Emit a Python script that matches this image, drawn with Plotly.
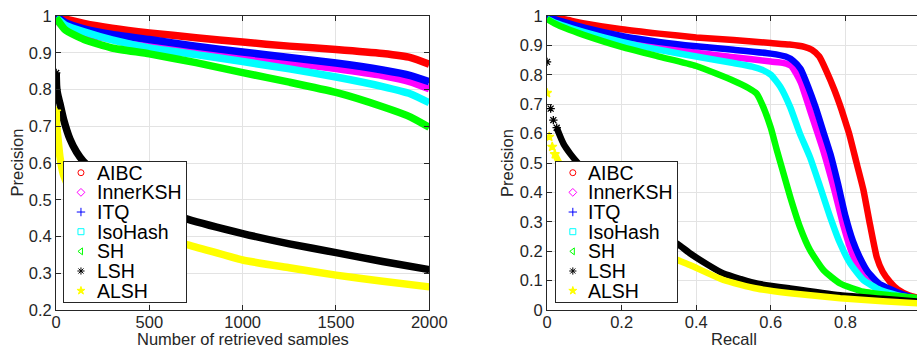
import plotly.graph_objects as go

# ---------------- data ----------------
NAMES = ["AIBC", "InnerKSH", "ITQ", "IsoHash", "SH", "LSH", "ALSH"]
COLORS = ["#ff0000", "#ff00ff", "#0000ff", "#00ffff", "#00ff00", "#000000", "#ffff00"]
SYMBOLS = ["circle-open", "diamond-open", "cross-thin-open", "square-open",
           "triangle-left-open", "asterisk-open", "star"]

# Left: precision vs number of retrieved samples
left_x = [1, 50, 150, 300, 500, 750, 1000, 1250, 1500, 1750, 1900, 2000]
left_aibc = [1.0, 0.992, 0.980, 0.967, 0.954, 0.941, 0.929, 0.918, 0.909, 0.898, 0.887, 0.869]
left_innerksh = [0.99, 0.968, 0.952, 0.937, 0.923, 0.905, 0.889, 0.873, 0.857, 0.838, 0.821, 0.802]
left_itq = [1.0, 0.982, 0.965, 0.950, 0.936, 0.918, 0.902, 0.887, 0.872, 0.853, 0.838, 0.821]
left_isohash = [0.995, 0.975, 0.957, 0.935, 0.913, 0.895, 0.876, 0.856, 0.834, 0.808, 0.788, 0.764]
left_sh = [0.995, 0.962, 0.936, 0.913, 0.897, 0.873, 0.846, 0.820, 0.792, 0.753, 0.725, 0.697]
left_lsh_x = [1, 3, 6, 12, 21, 40, 75, 110, 146, 250, 400, 550, 700, 1000, 1250, 1500, 1750, 2000]
left_lsh = [0.845, 0.81, 0.795, 0.78, 0.762, 0.72, 0.665, 0.63, 0.605, 0.555, 0.51, 0.475,
            0.448, 0.408, 0.38, 0.356, 0.332, 0.31]
left_alsh_x = [1, 3, 6, 12, 21, 39, 100, 200, 400, 700, 1000, 1250, 1500, 1750, 2000]
left_alsh = [0.74, 0.705, 0.69, 0.66, 0.617, 0.57, 0.50, 0.45, 0.41, 0.378, 0.336, 0.315,
             0.295, 0.278, 0.263]

# Right: precision vs recall
r_aibc_x = [0, 0.02, 0.05, 0.1, 0.2, 0.3, 0.4, 0.5, 0.6, 0.65, 0.69, 0.71, 0.73, 0.75, 0.77,
            0.79, 0.80, 0.81, 0.83, 0.848, 0.866, 0.884, 0.90, 0.92, 0.94, 0.97, 1.0]
r_aibc_y = [1.0, 0.995, 0.988, 0.975, 0.955, 0.94, 0.927, 0.918, 0.908, 0.903, 0.895, 0.885,
            0.862, 0.81, 0.75, 0.68, 0.64, 0.60, 0.50, 0.41, 0.29, 0.18, 0.13, 0.095, 0.07,
            0.05, 0.04]
r_inner_x = [0, 0.02, 0.05, 0.1, 0.2, 0.3, 0.4, 0.5, 0.6, 0.635, 0.655, 0.68, 0.705, 0.74,
             0.77, 0.795, 0.82, 0.85, 0.88, 0.91, 0.95, 1.0]
r_inner_y = [0.99, 0.98, 0.97, 0.952, 0.922, 0.897, 0.875, 0.86, 0.845, 0.84, 0.83, 0.775,
             0.68, 0.545, 0.41, 0.285, 0.185, 0.11, 0.08, 0.062, 0.048, 0.035]
r_itq_x = [0, 0.02, 0.05, 0.1, 0.2, 0.3, 0.4, 0.5, 0.6, 0.64, 0.66, 0.68, 0.70, 0.72, 0.74,
           0.76, 0.78, 0.80, 0.82, 0.84, 0.86, 0.89, 0.95, 1.0]
r_itq_y = [1.0, 0.99, 0.978, 0.96, 0.932, 0.912, 0.897, 0.885, 0.872, 0.862, 0.848, 0.82,
           0.76, 0.69, 0.61, 0.53, 0.43, 0.32, 0.235, 0.175, 0.13, 0.09, 0.055, 0.035]
r_iso_x = [0, 0.02, 0.05, 0.1, 0.2, 0.3, 0.4, 0.5, 0.55, 0.58, 0.6, 0.625, 0.652, 0.678,
           0.705, 0.732, 0.759, 0.786, 0.813, 0.848, 0.893, 0.94, 1.0]
r_iso_y = [0.99, 0.978, 0.965, 0.945, 0.912, 0.885, 0.862, 0.84, 0.828, 0.815, 0.80, 0.76,
           0.69, 0.60, 0.52, 0.42, 0.317, 0.226, 0.158, 0.102, 0.068, 0.05, 0.035]
r_sh_x = [0, 0.02, 0.05, 0.1, 0.2, 0.3, 0.4, 0.5, 0.54, 0.562, 0.58, 0.6, 0.616, 0.634,
          0.652, 0.678, 0.705, 0.741, 0.786, 0.848, 0.92, 1.0]
r_sh_y = [0.99, 0.975, 0.958, 0.935, 0.895, 0.862, 0.83, 0.78, 0.755, 0.736, 0.69, 0.62,
          0.545, 0.465, 0.385, 0.283, 0.204, 0.136, 0.09, 0.062, 0.05, 0.04]
r_lsh_x = [0.0, 0.0098, 0.017, 0.026, 0.033, 0.044, 0.062, 0.08, 0.12, 0.2, 0.28, 0.35,
           0.383, 0.43, 0.473, 0.52, 0.562, 0.652, 0.786, 0.9, 1.0]
r_lsh_y = [0.844, 0.685, 0.646, 0.62, 0.598, 0.566, 0.532, 0.504, 0.45, 0.36, 0.28, 0.225,
           0.193, 0.155, 0.124, 0.105, 0.09, 0.073, 0.05, 0.038, 0.028]
r_alsh_x = [0, 0.006, 0.014, 0.021, 0.028, 0.05, 0.1, 0.2, 0.3, 0.35, 0.383, 0.473, 0.562,
            0.652, 0.786, 0.9, 1.0]
r_alsh_y = [0.738, 0.589, 0.555, 0.53, 0.512, 0.46, 0.38, 0.28, 0.2, 0.17, 0.153, 0.102,
            0.073, 0.057, 0.04, 0.03, 0.022]

LEFT_SERIES = [(left_x, left_aibc, 0), (left_x, left_innerksh, 0), (left_x, left_itq, 0),
               (left_x, left_isohash, 0), (left_x, left_sh, 0),
               (left_lsh_x, left_lsh, 1), (left_alsh_x, left_alsh, 1)]
RIGHT_SERIES = [(r_aibc_x, r_aibc_y, 0), (r_inner_x, r_inner_y, 0), (r_itq_x, r_itq_y, 0),
                (r_iso_x, r_iso_y, 0), (r_sh_x, r_sh_y, 0),
                (r_lsh_x, r_lsh_y, 4), (r_alsh_x, r_alsh_y, 4)]

# ---------------- layout constants ----------------
W, H = 917, 345
MT, MB = 16, 35
PH = H - MT - MB
FONT = "Liberation Sans, Arial, Helvetica, sans-serif"
TXT = "#262626"

fig = go.Figure()


def add_series(series, xa, ya, width):
    for i, (xs, ys, head) in enumerate(series):
        if head > 0:
            fig.add_trace(go.Scatter(
                x=xs[:head], y=ys[:head], mode="markers", xaxis=xa, yaxis=ya,
                marker=dict(symbol=SYMBOLS[i], color=COLORS[i], size=7,
                            line=dict(color=COLORS[i], width=1.3)),
                showlegend=False, hoverinfo="skip"))
        start = max(head - 1, 0)
        fig.add_trace(go.Scatter(
            x=xs[start:], y=ys[start:], mode="lines", xaxis=xa, yaxis=ya, name=NAMES[i],
            line=dict(color=COLORS[i], width=width, shape="spline", smoothing=0.5),
            showlegend=False))


add_series(LEFT_SERIES, "x", "y", 7.5)
add_series(RIGHT_SERIES, "x2", "y2", 6.5)

# ---------------- custom legends (inset axes) ----------------
for xa, ya in (("x3", "y3"), ("x4", "y4")):
    fig.add_trace(go.Scatter(
        x=[0.139] * len(NAMES), y=list(range(len(NAMES))), mode="markers",
        xaxis=xa, yaxis=ya, hoverinfo="skip", showlegend=False,
        marker=dict(symbol=SYMBOLS, color=COLORS, size=6,
                    line=dict(color=COLORS, width=1))))
    for i, name in enumerate(NAMES):
        fig.add_annotation(x=0.252, y=i, xref=xa, yref=ya, text=name, showarrow=False,
                           xanchor="left", yanchor="middle",
                           font=dict(family=FONT, size=19.5, color="#000000"))
    fig.add_shape(type="rect", xref=xa, yref=ya, x0=0, x1=1, y0=-0.544, y1=6.576,
                  fillcolor="white", line=dict(width=0), layer="below")

axis_common = dict(showline=True, linecolor=TXT, linewidth=1, ticks="inside", ticklen=5,
                   tickcolor=TXT, tickwidth=1, showgrid=True, gridcolor="#e3e3e3",
                   gridwidth=1, zeroline=False, automargin=False,
                   tickfont=dict(family=FONT, size=16.5, color=TXT))
inset_axis = dict(showline=True, mirror=True, linecolor=TXT, linewidth=1, showgrid=False,
                  zeroline=False, showticklabels=False, ticks="", automargin=False)

leg_y = [(310 - 302) / PH, (310 - 162) / PH]

fig.update_layout(
    width=W, height=H, margin=dict(l=0, r=0, t=MT, b=MB),
    paper_bgcolor="white", plot_bgcolor="white", showlegend=False,
    xaxis=dict(axis_common, domain=[56 / W, 429.3 / W], range=[0, 2000],
               tickvals=[0, 500, 1000, 1500, 2000], mirror="ticks", anchor="y",
               ticklabelstandoff=-3),
    yaxis=dict(axis_common, range=[0.2, 1], dtick=0.1, tick0=0.2, mirror="ticks", anchor="x"),
    xaxis2=dict(axis_common, domain=[547 / W, 1.0], range=[0, 370 / 373], dtick=0.2,
                tick0=0, mirror="ticks", anchor="y2", ticklabelstandoff=-3),
    yaxis2=dict(axis_common, range=[0, 1], dtick=0.1, tick0=0, anchor="x2"),
    xaxis3=dict(inset_axis, domain=[64 / W, 186 / W], range=[0, 1], anchor="y3"),
    yaxis3=dict(inset_axis, domain=leg_y, range=[6.576, -0.544], anchor="x3"),
    xaxis4=dict(inset_axis, domain=[556 / W, 677 / W], range=[0, 1], anchor="y4"),
    yaxis4=dict(inset_axis, domain=leg_y, range=[6.576, -0.544], anchor="x4"),
)

title_font = dict(family=FONT, size=16.5, color=TXT)
ty = (310 - 339) / PH
fig.add_annotation(text="Number of retrieved samples", xref="x domain", yref="y domain",
                   x=0.5, y=ty, showarrow=False, yanchor="middle", font=title_font)
fig.add_annotation(text="Recall", xref="x2", yref="y2 domain", x=0.5, y=ty,
                   showarrow=False, yanchor="middle", font=title_font)
fig.add_annotation(text="Precision", xref="x domain", yref="y domain",
                   x=(16.5 - 56) / 373.3, y=0.5, textangle=-90, showarrow=False,
                   xanchor="center", yanchor="middle", font=title_font)
fig.add_annotation(text="Precision", xref="x2 domain", yref="y2 domain",
                   x=(507 - 547) / 370, y=0.5, textangle=-90, showarrow=False,
                   xanchor="center", yanchor="middle", font=title_font)

# remove the browser's default 8px body margin so the figure sits at the page origin
fig.write_html("out.html", config={"displayModeBar": False},
               post_script="document.body.style.margin='0';")
